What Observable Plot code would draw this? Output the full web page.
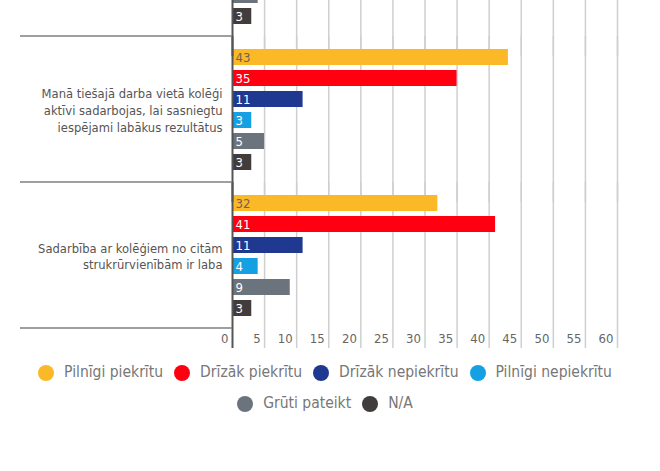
<!DOCTYPE html>
<html><head><meta charset="utf-8">
<script src="https://cdn.jsdelivr.net/npm/d3@7"></script>
<script src="https://cdn.jsdelivr.net/npm/@observablehq/plot@0.6"></script>
<style>
body{margin:0;background:#fff;font-family:"DejaVu Sans Condensed","DejaVu Sans",sans-serif;}
#chart{height:357px;overflow:hidden;}
#chart svg{display:block;margin-top:-120px;}
#legend{display:flex;flex-wrap:wrap;justify-content:center;width:650px;line-height:31px;font-size:15.5px;color:#777;}
.item{display:inline-flex;align-items:center;margin:0 5.5px;}
.dot{width:16px;height:16px;border-radius:50%;margin-right:10px;}
</style></head><body>
<div id="chart"></div><div id="legend"></div>
<script>
const series = ["Pilnīgi piekrītu","Drīzāk piekrītu","Drīzāk nepiekrītu","Pilnīgi nepiekrītu","Grūti pateikt","N/A"];
const colors = ["#fbb827","#ff0010","#1f3890","#16a0e4","#6b737c","#423d3d"];
const groups = [
  "",
  "Manā tiešajā darba vietā kolēģi\naktīvi sadarbojas, lai sasniegtu\niespējami labākus rezultātus",
  "Sadarbība ar kolēģiem no citām\nstrukrūrvienībām ir laba"
];
// top group is cut off in the picture: only its last two bars are visible
const valuesTop = [null, null, null, null, 4, 3];
const valuesTeam = [43, 35, 11, 3, 5, 3];
const valuesOther = [32, 41, 11, 4, 9, 3];
const xTicks = [0,5,10,15,20,25,30,35,40,45,50,55,60];

const groupValues = [valuesTop, valuesTeam, valuesOther];
const rows = groups.flatMap((g,i)=>series.map((s,j)=>({group:g, series:s, value:groupValues[i][j]})))
  .filter(d=>d.value!=null);

const font = '"DejaVu Sans Condensed","DejaVu Sans",sans-serif';
const chart = Plot.plot({
  width:660, height:478,
  marginLeft:232, marginRight:43, marginTop:10, marginBottom:30,
  style:{fontFamily:font, fontSize:"12.5px", background:"white"},
  x:{domain:[0,60], axis:null},
  y:{domain:series, paddingInner:0.24, paddingOuter:0.485, axis:null},
  fy:{domain:groups, padding:0, axis:null},
  color:{domain:series, range:colors},
  marks:[
    Plot.ruleX(xTicks.filter(t=>t>0), {stroke:"#cfcfcf", strokeWidth:1.5, insetBottom:-20}),
    Plot.barX(rows, {fy:"group", y:"series", x:"value", fill:"series"}),
    Plot.text(rows, {filter:d=>d.series===series[0], fy:"group", y:"series", x:0, text:"value", dx:3, textAnchor:"start", fill:"#6e6450", fontSize:13}),
    Plot.text(rows, {filter:d=>d.series!==series[0], fy:"group", y:"series", x:0, text:"value", dx:3, textAnchor:"start", fill:"white", fontSize:13}),
    Plot.ruleX([0], {stroke:"#555", strokeWidth:2, insetBottom:-20}),
    Plot.text(groups, {fy:d=>d, text:d=>d, frameAnchor:"left", dx:-10, textAnchor:"end", lineHeight:1.3, fill:"#555", fontSize:12.85}),
    Plot.text(xTicks, {x:d=>d, fy:()=>groups[2], frameAnchor:"bottom", dy:14, dx:-4, textAnchor:"end", fill:"#666", fontSize:13})
  ]
});

// group separator lines in the left margin, placed from the facet scale
const fy = chart.scale("fy");
const svg = d3.select(chart);
const bounds = groups.map(g=>fy.apply(g)).concat([fy.apply(groups[groups.length-1]) + fy.bandwidth]);
bounds.forEach(yy=>{
  svg.append("line").attr("x1",20).attr("x2",232).attr("y1",yy).attr("y2",yy)
    .attr("stroke","#7f7f7f").attr("stroke-width",1.5);
});
document.getElementById("chart").appendChild(chart);

const legend = d3.select("#legend");
series.forEach((s,i)=>{
  const it = legend.append("span").attr("class","item");
  it.append("span").attr("class","dot").style("background",colors[i]);
  it.append("span").text(s);
});
</script>
</body></html>
